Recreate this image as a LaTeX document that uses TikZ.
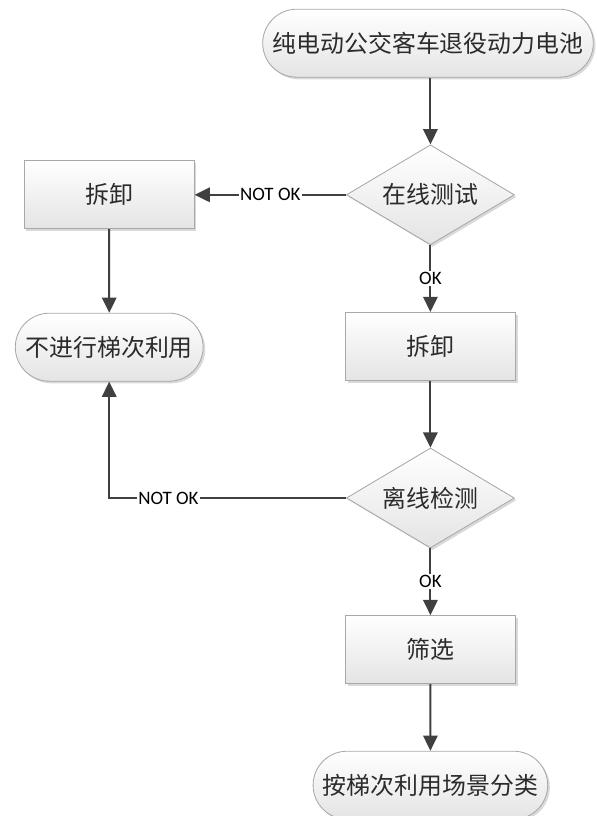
\documentclass[tikz,border=0pt]{standalone}
\usepackage{fontspec}
\setmainfont{Noto Sans CJK SC}
\setsansfont{Carlito}
\usetikzlibrary{arrows.meta, shapes.geometric, shapes.misc, shadows}
\definecolor{cline}{HTML}{404040}
\definecolor{cedge}{HTML}{A8A8A8}
\definecolor{ctext}{HTML}{2B2B2B}
\definecolor{cfill}{HTML}{E4E4E4}
\tikzset{
  every picture/.style={line width=1.4pt},
  card/.style={draw=cedge, line width=0.6pt, top color=white, bottom color=cfill, text=ctext,
    font=\fontsize{17}{20}\selectfont,
    drop shadow={shadow xshift=1.5pt, shadow yshift=-1.5pt, fill=black, opacity=0.15}},
  arrow/.style={-{Triangle[length=3.8mm, width=3.6mm]}, draw=cline, line width=1.4pt},
  lab/.style={font=\sffamily\fontsize{13.5}{15}\selectfont, fill=white, inner sep=1pt, text=black},
}

\begin{document}
\begin{tikzpicture}[
  term/.style={card, rounded rectangle, minimum height=1.7cm},
  act/.style={card, rectangle, minimum width=4.25cm, minimum height=1.7cm},
  test/.style={card, diamond, aspect=1.68, minimum width=4.2cm, minimum height=2.5cm, inner sep=0pt}]
  \useasboundingbox (0,0) rectangle (14.925,-20.4);
  \node[term, minimum width=8.5cm] (start) at (10.7,-1.08) {纯电动公交客车退役动力电池};
  \node[test] (online) at (10.76,-4.87) {在线测试};
  \node[act] (dis1) at (2.73,-4.87) {拆卸};
  \node[term, minimum width=4.93cm] (noreuse) at (2.73,-8.68) {不进行梯次利用};
  \node[act] (dis2) at (10.76,-8.66) {拆卸};
  \node[test] (offline) at (10.76,-12.45) {离线检测};
  \node[act] (sift) at (10.76,-16.24) {筛选};
  \node[term, minimum width=6.1cm] (sort) at (10.76,-19.63) {按梯次利用场景分类};
  \draw[arrow] (start.south -| online) -- (online);
  \draw[arrow] (online) -- node[lab] {NOT OK} (dis1);
  \draw[arrow] (online) -- node[lab] {OK} (dis2);
  \draw[arrow] (offline) -| node[lab, pos=0.375] {NOT OK} (noreuse);
  \draw[arrow] (offline) -- node[lab] {OK} (sift);
  \foreach \a/\b in {dis1/noreuse, dis2/offline, sift/sort} \draw[arrow] (\a) -- (\b);
\end{tikzpicture}
\end{document}
